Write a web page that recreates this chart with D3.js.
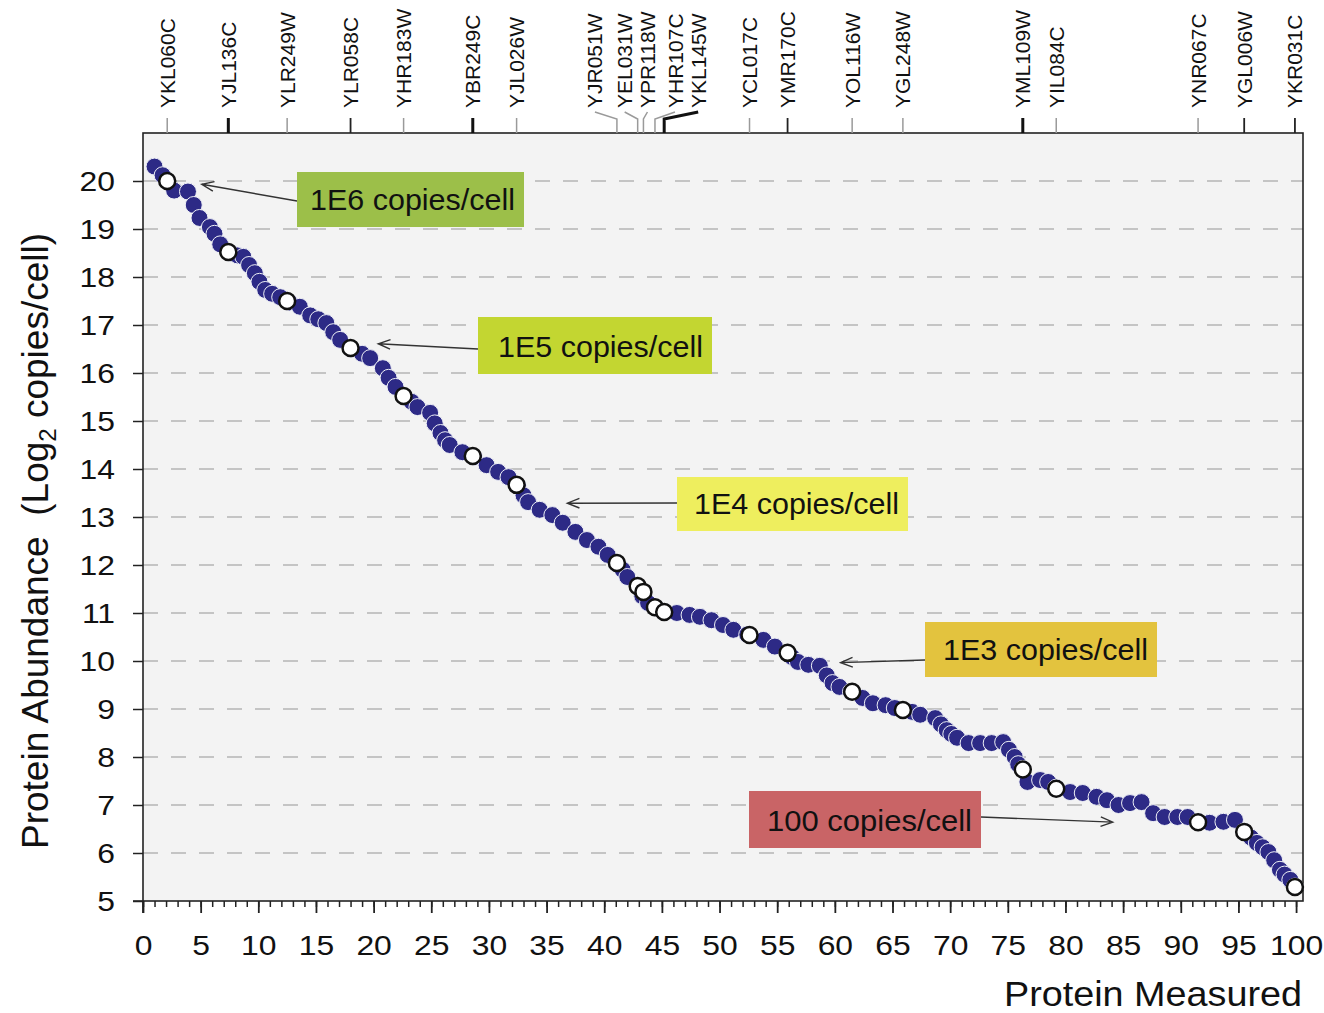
<!DOCTYPE html>
<html>
<head>
<meta charset="utf-8">
<script src="https://cdn.jsdelivr.net/npm/d3@7"></script>
<style>
  body { margin: 0; background: #ffffff; }
  svg text { font-family: "Liberation Sans", Arial, sans-serif; fill: #111; }
</style>
</head>
<body>
<svg id="chart" width="1324" height="1013"></svg>
<script>
// ---- data: proteins ranked by abundance (log2 copies per cell) ----
const measuredX = [1.0, 1.7, 2.7, 3.9, 4.4, 4.9, 5.8, 6.2, 6.7, 7.6, 8.2, 8.7, 9.2, 9.7, 10.1, 10.6, 11.2, 11.9,
  12.7, 13.6, 14.5, 15.2, 15.9, 16.5, 17.1, 18.1, 19.0, 19.7, 20.8, 21.3, 21.9, 22.7, 23.3, 23.8, 24.9, 25.3,
  25.8, 26.2, 26.6, 27.7, 28.7, 29.8, 30.8, 31.7, 32.5, 33.0, 33.4, 34.4, 35.5, 36.4,
  37.5, 38.5, 39.5, 40.3, 41.1, 41.6, 42.0, 42.9, 43.3, 43.8, 44.5, 45.3, 46.3, 47.4, 48.3, 49.3, 50.3, 51.2, 52.4, 53.8,
  54.8, 55.9, 56.3, 56.8, 57.7, 58.7, 59.3, 59.8, 60.4, 61.4, 62.4, 63.3, 64.4, 65.2, 66.0, 66.7, 67.4, 68.7, 69.2, 69.7, 70.1, 70.6,
  71.6, 72.6, 73.6, 74.6, 75.1, 75.6, 75.9, 76.3, 76.7, 77.8, 78.5, 79.2, 80.4, 81.5, 82.7, 83.6, 84.6, 85.6, 86.6, 87.6,
  88.6, 89.7, 90.6, 91.5, 92.5, 93.7, 94.7, 95.5, 96.1, 96.6, 97.1, 97.6, 98.1, 98.6, 99.0, 99.5, 99.9];
const measuredY = [20.30, 20.12, 19.80, 19.78, 19.50, 19.23, 19.04, 18.90, 18.68, 18.50, 18.45, 18.42, 18.25, 18.08, 17.90, 17.73, 17.65, 17.58,
  17.47, 17.38, 17.20, 17.12, 17.04, 16.85, 16.69, 16.50, 16.40, 16.31, 16.10, 15.90, 15.71, 15.50, 15.40, 15.29, 15.17, 14.95,
  14.75, 14.60, 14.50, 14.35, 14.25, 14.08, 13.94, 13.83, 13.65, 13.45, 13.31, 13.15, 13.04, 12.88,
  12.69, 12.52, 12.38, 12.21, 12.02, 11.90, 11.75, 11.55, 11.35, 11.21, 11.10, 11.02, 11.00, 10.96, 10.92, 10.85, 10.75, 10.65, 10.55, 10.44,
  10.30, 10.17, 10.08, 9.98, 9.92, 9.90, 9.70, 9.54, 9.46, 9.36, 9.23, 9.12, 9.08, 9.02, 8.97, 8.94, 8.88, 8.81, 8.68, 8.56, 8.48, 8.40,
  8.29, 8.29, 8.29, 8.31, 8.15, 8.00, 7.85, 7.75, 7.48, 7.52, 7.48, 7.36, 7.27, 7.25, 7.17, 7.10, 7.00, 7.04, 7.06, 6.83,
  6.75, 6.75, 6.75, 6.65, 6.63, 6.65, 6.69, 6.45, 6.32, 6.21, 6.12, 6.02, 5.85, 5.65, 5.55, 5.44, 5.30];

// marker proteins named along the top
const markerGenes = ["YKL060C", "YJL136C", "YLR249W", "YLR058C", "YHR183W", "YBR249C", "YJL026W",
  "YJR051W", "YEL031W", "YPR118W", "YHR107C", "YKL145W", "YCL017C", "YMR170C", "YOL116W", "YGL248W",
  "YML109W", "YIL084C", "YNR067C", "YGL006W", "YKR031C"];
const markerX = [2.1, 7.4, 12.5, 18.0, 22.6, 28.6, 32.4, 41.1, 42.9, 43.4, 44.4, 45.2, 52.6, 55.9, 61.5, 65.9,
  76.3, 79.2, 91.5, 95.5, 99.9];
const markerY = [20.0, 18.52, 17.5, 16.52, 15.52, 14.27, 13.67, 12.04, 11.56, 11.44, 11.12, 11.02, 10.54, 10.17, 9.36, 8.98,
  7.74, 7.34, 6.64, 6.44, 5.29];

// copy-number reference callouts
const calloutLabels = ["1E6 copies/cell", "1E5 copies/cell", "1E4 copies/cell", "1E3 copies/cell", "100 copies/cell"];
const calloutCopies = [1e6, 1e5, 1e4, 1e3, 100];
const calloutX = [5.1, 20.4, 36.8, 60.5, 84.1];

const xMajorTicks = d3.range(0, 101, 5);
const xMinorTicks = d3.range(0, 101, 1);
const yTicks = d3.range(5, 21, 1);

// ---- layout ----
const svg = d3.select("#chart");
const plot = { left: 143, right: 1303, top: 133, bottom: 901 };
const x = d3.scaleLinear().domain([0, 100.6]).range([plot.left, plot.right]);
const y = d3.scaleLinear().domain([5, 21]).range([plot.bottom, plot.top]);

// plot background
svg.append("rect")
  .attr("x", plot.left).attr("y", plot.top)
  .attr("width", plot.right - plot.left).attr("height", plot.bottom - plot.top)
  .attr("fill", "#f3f3f3");

// dashed horizontal gridlines
svg.append("g").selectAll("line")
  .data(yTicks.filter(v => v > 5))
  .join("line")
  .attr("x1", plot.left).attr("x2", plot.right)
  .attr("y1", d => y(d)).attr("y2", d => y(d))
  .attr("stroke", "#c4c4c4").attr("stroke-width", 2)
  .attr("stroke-dasharray", "15,13");

// left axis
const tickScale = 1.18;
const yAxis = svg.append("g")
  .attr("transform", `translate(${plot.left},0)`)
  .call(d3.axisLeft(y).tickValues(yTicks).tickSize(10).tickPadding(18).tickFormat(d3.format("d")));
yAxis.select(".domain").remove();
yAxis.selectAll(".tick line").attr("stroke", "#222").attr("stroke-width", 1.5);
yAxis.selectAll(".tick text")
  .attr("font-size", 27).attr("fill", "#111")
  .attr("x", -28 / tickScale).attr("dy", "0.36em")
  .attr("transform", `scale(${tickScale},1)`)
  .style("font-family", '"Liberation Sans", Arial, sans-serif');

// bottom axis: minor then major ticks
const xMinor = svg.append("g")
  .attr("transform", `translate(0,${plot.bottom})`)
  .call(d3.axisBottom(x).tickValues(xMinorTicks).tickSize(6).tickFormat(""));
xMinor.select(".domain").remove();
xMinor.selectAll(".tick line").attr("stroke", "#222").attr("stroke-width", 1.5);

const xAxis = svg.append("g")
  .attr("transform", `translate(0,${plot.bottom})`)
  .call(d3.axisBottom(x).tickValues(xMajorTicks).tickSize(12).tickFormat(d3.format("d")));
xAxis.select(".domain").remove();
xAxis.selectAll(".tick line").attr("stroke", "#222").attr("stroke-width", 1.8);
xAxis.selectAll(".tick text")
  .attr("font-size", 27).attr("fill", "#111")
  .attr("y", 54).attr("dy", "0")
  .attr("transform", `scale(${tickScale},1)`)
  .style("font-family", '"Liberation Sans", Arial, sans-serif');

// plot frame, with axis lines running out to the outer ticks
svg.append("rect")
  .attr("x", plot.left).attr("y", plot.top)
  .attr("width", plot.right - plot.left).attr("height", plot.bottom - plot.top)
  .attr("fill", "none").attr("stroke", "#222").attr("stroke-width", 1.6);
svg.append("line").attr("x1", plot.left - 10).attr("x2", plot.left)
  .attr("y1", plot.bottom).attr("y2", plot.bottom).attr("stroke", "#222").attr("stroke-width", 1.6);
svg.append("line").attr("x1", plot.left).attr("x2", plot.left)
  .attr("y1", plot.bottom).attr("y2", plot.bottom + 12).attr("stroke", "#222").attr("stroke-width", 1.8);

// top axis: gene names of marker proteins
const tickStyle = {
  YJL136C: ["#111", 3], YBR249C: ["#111", 3], YKL145W: ["#111", 3], YML109W: ["#111", 3],
  YLR058C: ["#222", 1.8], YMR170C: ["#222", 1.8], YGL006W: ["#222", 1.8], YKR031C: ["#222", 1.8]
};
const labelShift = { YJR051W: -22, YEL031W: -13, YPR118W: 4, YHR107C: 20, YKL145W: 34 };
const markers = markerGenes.map((g, i) => ({ gene: g, x: markerX[i], y: markerY[i] }));

const geneAxis = svg.append("g");
markers.forEach(m => {
  const tx = x(m.x);
  const lx = tx + (labelShift[m.gene] || 0);
  const [col, w] = tickStyle[m.gene] || ["#9a9a9a", 1.5];
  const leader = labelShift[m.gene] !== undefined
    ? `M${lx},112 L${tx},119 L${tx},${plot.top}`
    : `M${tx},118 L${tx},${plot.top}`;
  geneAxis.append("path").attr("d", leader)
    .attr("fill", "none").attr("stroke", col).attr("stroke-width", w);
  geneAxis.append("text")
    .attr("transform", `translate(${lx},108) rotate(-90)`)
    .attr("dy", "0.36em")
    .attr("font-size", 21)
    .text(m.gene);
});

// ranked proteins
svg.append("g").selectAll("circle")
  .data(measuredX.map((v, i) => [v, measuredY[i]]))
  .join("circle")
  .attr("cx", d => x(d[0])).attr("cy", d => y(d[1]))
  .attr("r", 8.5)
  .attr("fill", "#2d2a86")
  .attr("stroke", "#eef0f6").attr("stroke-width", 1);

// highlighted marker proteins
svg.append("g").selectAll("circle")
  .data(markers)
  .join("circle")
  .attr("cx", d => x(d.x)).attr("cy", d => y(d.y))
  .attr("r", 8)
  .attr("fill", "#ffffff")
  .attr("stroke", "#111").attr("stroke-width", 2.5);

// callout boxes with arrows to the copy-number levels
const calloutBoxes = [
  { x: 297, y: 172, w: 227, h: 55, fill: "#9cbf49", sx: 297, sy: 201 },
  { x: 478, y: 317, w: 234, h: 57, fill: "#c3d631", sx: 478, sy: 349 },
  { x: 677, y: 477, w: 231, h: 54, fill: "#eeee5e", sx: 677, sy: 503 },
  { x: 925, y: 622, w: 232, h: 55, fill: "#e3c33e", sx: 925, sy: 660 },
  { x: 749, y: 791, w: 232, h: 57, fill: "#c96466", sx: 981, sy: 817 }
];
const callouts = svg.append("g");
calloutLabels.forEach((label, i) => {
  const b = calloutBoxes[i];
  const tipX = x(calloutX[i]);
  const tipY = y(Math.log2(calloutCopies[i]));
  const ang = Math.atan2(tipY - b.sy, tipX - b.sx);
  const head = 13, spread = 0.38;
  callouts.append("path")
    .attr("d", `M${b.sx},${b.sy} L${tipX},${tipY}` +
      ` M${tipX - head * Math.cos(ang - spread)},${tipY - head * Math.sin(ang - spread)} L${tipX},${tipY}` +
      ` L${tipX - head * Math.cos(ang + spread)},${tipY - head * Math.sin(ang + spread)}`)
    .attr("fill", "none").attr("stroke", "#333").attr("stroke-width", 1.4);
  callouts.append("rect")
    .attr("x", b.x).attr("y", b.y).attr("width", b.w).attr("height", b.h)
    .attr("fill", b.fill);
  callouts.append("text")
    .attr("x", b.x + b.w - 9).attr("y", b.y + b.h - 17)
    .attr("text-anchor", "end")
    .attr("font-size", 29)
    .attr("textLength", 205).attr("lengthAdjust", "spacingAndGlyphs")
    .text(label);
});

// axis titles
svg.append("text")
  .attr("x", 1302).attr("y", 1006)
  .attr("text-anchor", "end")
  .attr("font-size", 35)
  .attr("textLength", 298).attr("lengthAdjust", "spacingAndGlyphs")
  .text("Protein Measured");

const yTitle = svg.append("text")
  .attr("transform", "translate(48,541) rotate(-90)")
  .attr("text-anchor", "middle")
  .attr("font-size", 37)
  .style("white-space", "pre");
yTitle.append("tspan").text("Protein Abundance  (Log");
yTitle.append("tspan").attr("font-size", 24).attr("dy", 8).text("2");
yTitle.append("tspan").attr("dy", -8).text(" copies/cell)");
</script>
</body>
</html>
